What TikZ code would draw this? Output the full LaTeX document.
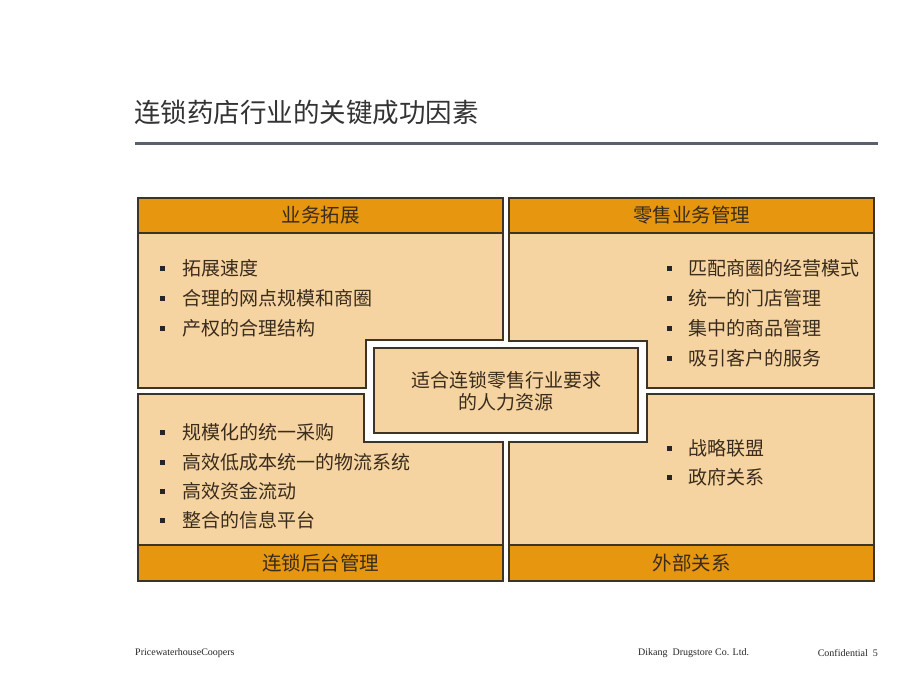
\documentclass[tikz,border=0pt]{standalone}
\usepackage{fontspec}
\setmainfont{Liberation Serif}
\newfontfamily\cjk{Noto Sans CJK SC}
\definecolor{hdr}{HTML}{E6960F}
\definecolor{body}{HTML}{F6D4A2}
\definecolor{edge}{HTML}{3E3425}
\definecolor{txt}{HTML}{3A2C1C}
\definecolor{rule}{HTML}{5A6070}
\begin{document}
\begin{tikzpicture}[x=1pt,y=-1pt,
  quad/.style={fill=body,draw=edge,line width=1.3pt},
  head/.style={fill=hdr,draw=edge,line width=1.3pt},
  htext/.style={font=\cjk\fontsize{19.5}{21}\selectfont,text=txt,inner sep=0pt},
  item/.style={font=\cjk\fontsize{19}{21}\selectfont,text=txt,anchor=west,inner sep=0pt},
  bul/.style={fill=black!85,minimum size=5pt,inner sep=0pt},
  foot/.style={font=\fontsize{10}{12}\selectfont,text=black!85,inner sep=0pt}]
\useasboundingbox (0,0) rectangle (920,690);
\fill[white] (0,0) rectangle (920,690);
% title
\node[font=\cjk\fontsize{26.5}{29}\selectfont,text=black!80,anchor=west,inner sep=0pt] (title) at (134,112) {连锁药店行业的关键成功因素};
\fill[rule] (135,141.5) rectangle (878,144.5);
% top-left
\draw[quad] (138,233) -- (503,233) -- (503,340) -- (366,340) -- (366,388) -- (138,388) -- cycle;
\draw[head] (138,198) rectangle (503,233);
\node[htext] (h1) at (320.5,215.5) {业务拓展};
% top-right
\draw[quad] (509,233) -- (874,233) -- (874,388) -- (647,388) -- (647,341) -- (509,341) -- cycle;
\draw[head] (509,198) rectangle (874,233);
\node[htext] (h2) at (691.5,215.5) {零售业务管理};
% bottom-left
\draw[quad] (138,394) -- (364,394) -- (364,442) -- (503,442) -- (503,545) -- (138,545) -- cycle;
\draw[head] (138,545) rectangle (503,581);
\node[htext] (h3) at (320.5,563) {连锁后台管理};
% bottom-right
\draw[quad] (647,394) -- (874,394) -- (874,545) -- (509,545) -- (509,442) -- (647,442) -- cycle;
\draw[head] (509,545) rectangle (874,581);
\node[htext] (h4) at (691.5,563) {外部关系};
% center
\draw[quad] (374,348) rectangle (638,433);
\node[htext,align=center,font=\cjk\fontsize{19}{22}\selectfont] (c) at (506,391) {适合连锁零售行业要求\\的人力资源};
% bullets top-left
\node[bul] (b11) at (162,268.5) {}; \node[item] (t11) at (182,268.5) {拓展速度};
\node[bul] (b12) at (162,298.5) {}; \node[item] (t12) at (182,298.5) {合理的网点规模和商圈};
\node[bul] (b13) at (162,328) {}; \node[item] (t13) at (182,328) {产权的合理结构};
% bullets top-right
\node[bul] (b21) at (669,268.5) {}; \node[item] (t21) at (688,268.5) {匹配商圈的经营模式};
\node[bul] (b22) at (669,298.5) {}; \node[item] (t22) at (688,298.5) {统一的门店管理};
\node[bul] (b23) at (669,328) {}; \node[item] (t23) at (688,328) {集中的商品管理};
\node[bul] (b24) at (669,358) {}; \node[item] (t24) at (688,358) {吸引客户的服务};
% bullets bottom-left
\node[bul] (b31) at (162,432) {}; \node[item] (t31) at (182,432) {规模化的统一采购};
\node[bul] (b32) at (162,462) {}; \node[item] (t32) at (182,462) {高效低成本统一的物流系统};
\node[bul] (b33) at (162,491) {}; \node[item] (t33) at (182,491) {高效资金流动};
\node[bul] (b34) at (162,520.5) {}; \node[item] (t34) at (182,520.5) {整合的信息平台};
% bullets bottom-right
\node[bul] (b41) at (669,448) {}; \node[item] (t41) at (688,448) {战略联盟};
\node[bul] (b42) at (669,477) {}; \node[item] (t42) at (688,477) {政府关系};
% footer
\node[foot,anchor=west] (f1) at (135,653.5) {PricewaterhouseCoopers};
\node[foot,anchor=west] (f2) at (638,653.5) {Dikang\ \ Drugstore Co. Ltd.};
\node[foot,anchor=east] (f3) at (878,653.5) {Confidential\ \ 5};
\end{tikzpicture}
\end{document}
